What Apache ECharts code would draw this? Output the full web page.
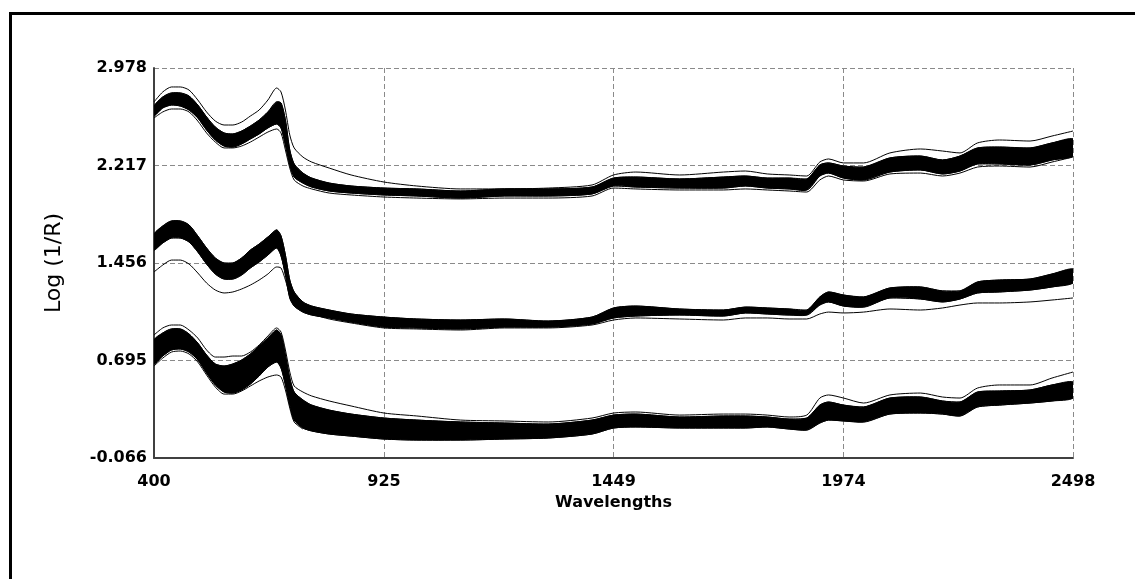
<!DOCTYPE html>
<html>
<head>
<meta charset="utf-8">
<script src="https://cdn.jsdelivr.net/npm/echarts@6/dist/echarts.min.js"></script>
<style>
html,body{margin:0;padding:0;background:#fff;}
#c{width:1135px;height:579px;}
</style>
</head>
<body>
<div id="c"></div>
<script>
// ---- data ----
const wavelengths = [400,420,440,460,480,500,520,540,560,580,600,620,640,660,680,690,700,710,720,740,760,800,850,925,1000,1100,1200,1300,1400,1449,1500,1600,1700,1750,1800,1850,1890,1920,1940,1974,2020,2080,2150,2200,2240,2280,2330,2400,2450,2498];
const xTicks = [400, 925, 1449, 1974, 2498];
const yTicks = [-0.066, 0.695, 1.456, 2.217, 2.978];

// group 1 (top spectra)
const g1Top   = [2.713,2.791,2.830,2.830,2.806,2.728,2.635,2.564,2.533,2.533,2.556,2.603,2.650,2.728,2.822,2.791,2.650,2.455,2.354,2.283,2.244,2.197,2.143,2.088,2.057,2.034,2.034,2.041,2.065,2.143,2.166,2.143,2.166,2.174,2.151,2.143,2.135,2.244,2.268,2.237,2.237,2.315,2.346,2.330,2.315,2.393,2.416,2.408,2.447,2.486];
const g1Upper = [2.681,2.752,2.783,2.783,2.759,2.689,2.596,2.517,2.471,2.463,2.486,2.525,2.572,2.635,2.713,2.705,2.572,2.338,2.229,2.158,2.119,2.080,2.057,2.041,2.034,2.018,2.034,2.034,2.049,2.119,2.127,2.112,2.127,2.135,2.119,2.119,2.112,2.221,2.237,2.213,2.205,2.276,2.291,2.260,2.291,2.354,2.361,2.354,2.393,2.424];
const g1Lower = [2.603,2.666,2.689,2.681,2.650,2.588,2.494,2.416,2.369,2.361,2.385,2.424,2.463,2.510,2.541,2.510,2.377,2.221,2.127,2.080,2.049,2.018,2.002,1.987,1.979,1.963,1.979,1.979,1.995,2.057,2.049,2.041,2.041,2.057,2.041,2.034,2.026,2.135,2.158,2.119,2.104,2.166,2.182,2.151,2.174,2.229,2.229,2.221,2.260,2.291];
const g1Bottom= [2.588,2.635,2.658,2.658,2.635,2.564,2.471,2.400,2.354,2.354,2.369,2.400,2.439,2.478,2.502,2.471,2.338,2.197,2.104,2.057,2.034,2.002,1.987,1.971,1.963,1.956,1.963,1.963,1.979,2.041,2.034,2.026,2.026,2.034,2.026,2.018,2.010,2.104,2.135,2.104,2.096,2.151,2.158,2.135,2.158,2.205,2.213,2.205,2.244,2.283];

// group 2 (middle spectra)
const g2Upper = [1.682,1.745,1.784,1.784,1.753,1.667,1.573,1.495,1.456,1.456,1.495,1.557,1.604,1.659,1.714,1.667,1.518,1.323,1.230,1.152,1.120,1.089,1.058,1.034,1.019,1.011,1.019,1.003,1.034,1.105,1.120,1.097,1.089,1.112,1.105,1.097,1.089,1.191,1.230,1.206,1.191,1.261,1.269,1.238,1.238,1.308,1.323,1.331,1.370,1.409];
const g2Lower = [1.557,1.612,1.651,1.651,1.620,1.542,1.448,1.370,1.331,1.331,1.362,1.417,1.464,1.518,1.573,1.511,1.362,1.183,1.120,1.073,1.050,1.027,0.995,0.956,0.949,0.941,0.956,0.956,0.980,1.027,1.042,1.050,1.042,1.066,1.058,1.050,1.050,1.128,1.152,1.120,1.112,1.183,1.175,1.152,1.175,1.222,1.230,1.245,1.269,1.300];
const g2Bottom= [1.386,1.440,1.479,1.479,1.448,1.378,1.300,1.245,1.222,1.230,1.253,1.284,1.323,1.370,1.425,1.417,1.323,1.206,1.144,1.089,1.058,1.019,0.988,0.949,0.941,0.933,0.949,0.949,0.972,1.011,1.027,1.019,1.011,1.027,1.027,1.019,1.019,1.058,1.073,1.066,1.073,1.097,1.089,1.105,1.128,1.144,1.144,1.152,1.167,1.183];

// group 3 (bottom spectra)
const g3Top   = [0.894,0.949,0.972,0.972,0.933,0.870,0.777,0.722,0.722,0.730,0.730,0.761,0.816,0.886,0.949,0.917,0.777,0.605,0.496,0.449,0.418,0.379,0.340,0.285,0.262,0.230,0.223,0.215,0.246,0.285,0.293,0.269,0.277,0.277,0.269,0.254,0.269,0.402,0.426,0.402,0.363,0.426,0.441,0.410,0.402,0.480,0.504,0.504,0.558,0.605];
const g3Upper = [0.855,0.910,0.941,0.941,0.902,0.831,0.738,0.668,0.652,0.668,0.699,0.746,0.808,0.871,0.933,0.894,0.738,0.558,0.449,0.387,0.347,0.308,0.277,0.246,0.230,0.215,0.207,0.199,0.230,0.269,0.277,0.254,0.262,0.262,0.254,0.238,0.246,0.347,0.371,0.347,0.332,0.402,0.410,0.379,0.371,0.449,0.457,0.465,0.504,0.527];
const g3Lower = [0.668,0.730,0.777,0.785,0.761,0.699,0.597,0.504,0.449,0.441,0.465,0.511,0.574,0.644,0.683,0.636,0.504,0.347,0.230,0.168,0.145,0.121,0.105,0.082,0.074,0.074,0.082,0.090,0.121,0.168,0.176,0.168,0.168,0.168,0.176,0.160,0.152,0.207,0.230,0.223,0.215,0.277,0.285,0.277,0.262,0.332,0.347,0.363,0.379,0.402];
const g3Bottom= [0.652,0.714,0.761,0.769,0.746,0.683,0.582,0.488,0.433,0.433,0.457,0.496,0.535,0.566,0.582,0.566,0.465,0.324,0.215,0.160];

// ---- build options ----
function pairs(vals){ const out=[]; for(let i=0;i<vals.length;i++){ out.push([wavelengths[i], vals[i]]); } return out; }

const lineBase = { type:'line', symbol:'none', smooth:0.25, silent:true, animation:false, z:3,
  lineStyle:{ color:'#000', width:1 }, itemStyle:{ color:'#000' } };
function line(vals){ return Object.assign({}, lineBase, { data: pairs(vals) }); }

// filled band between an upper and a lower spectrum, placed through the axes' scales
function band(up, lo){
  return {
    type:'custom', silent:true, animation:false, clip:true, z:2,
    encode:{ x:0, y:1 },
    data: pairs(up),
    renderItem: function(params, api){
      if (params.dataIndex !== 0) return null;
      const pts = [];
      for (let i=0;i<up.length;i++) pts.push(api.coord([wavelengths[i], up[i]]));
      for (let i=lo.length-1;i>=0;i--) pts.push(api.coord([wavelengths[i], lo[i]]));
      return { type:'polygon', shape:{ points:pts, smooth:0.25 }, style:{ fill:'#000', stroke:'#000', lineWidth:1 } };
    }
  };
}

const series = [
  band(g1Upper, g1Lower), line(g1Upper), line(g1Lower), line(g1Top), line(g1Bottom),
  band(g2Upper, g2Lower), line(g2Upper), line(g2Lower), line(g2Bottom),
  band(g3Upper, g3Lower), line(g3Upper), line(g3Lower), line(g3Top), line(g3Bottom)
];

const chart = echarts.init(document.getElementById('c'), null, { renderer:'canvas' });
chart.setOption({
  animation:false,
  backgroundColor:'#fff',
  graphic:[{ type:'rect', silent:true, z:100,
    shape:{ x:10.5, y:13.5, width:2000, height:2000 },
    style:{ fill:'none', stroke:'#000', lineWidth:3 } }],
  grid:{ left:154, top:68, width:919, height:390, containLabel:false },
  xAxis:{
    type:'value', min:400, max:2498,
    name:'Wavelengths', nameLocation:'middle', nameGap:36,
    nameTextStyle:{ fontFamily:'DejaVu Sans', fontWeight:'bold', fontSize:16, color:'#000' },
    axisLine:{ show:true, onZero:false, lineStyle:{ color:'#404040', width:2 } },
    axisTick:{ show:false, customValues: xTicks },
    axisLabel:{ customValues: xTicks, margin:16, fontFamily:'DejaVu Sans', fontWeight:'bold', fontSize:16, color:'#000',
      formatter:(v)=>String(v) },
    splitLine:{ show:true, lineStyle:{ color:'#8a8a8a', width:1, type:[5,3] } }
  },
  yAxis:{
    type:'value', min:-0.066, max:2.978,
    name:'Log (1/R)', nameLocation:'middle', nameGap:89, nameRotate:90,
    nameTextStyle:{ fontFamily:'DejaVu Sans', fontSize:22, color:'#000' },
    axisLine:{ show:true, onZero:false, lineStyle:{ color:'#404040', width:2 } },
    axisTick:{ show:false, customValues: yTicks },
    axisLabel:{ customValues: yTicks, margin:7, fontFamily:'DejaVu Sans', fontWeight:'bold', fontSize:16, color:'#000',
      formatter:(v)=>v.toFixed(3) },
    splitLine:{ show:true, lineStyle:{ color:'#8a8a8a', width:1, type:[5,3] } }
  },
  series: series
});
</script>
</body>
</html>
